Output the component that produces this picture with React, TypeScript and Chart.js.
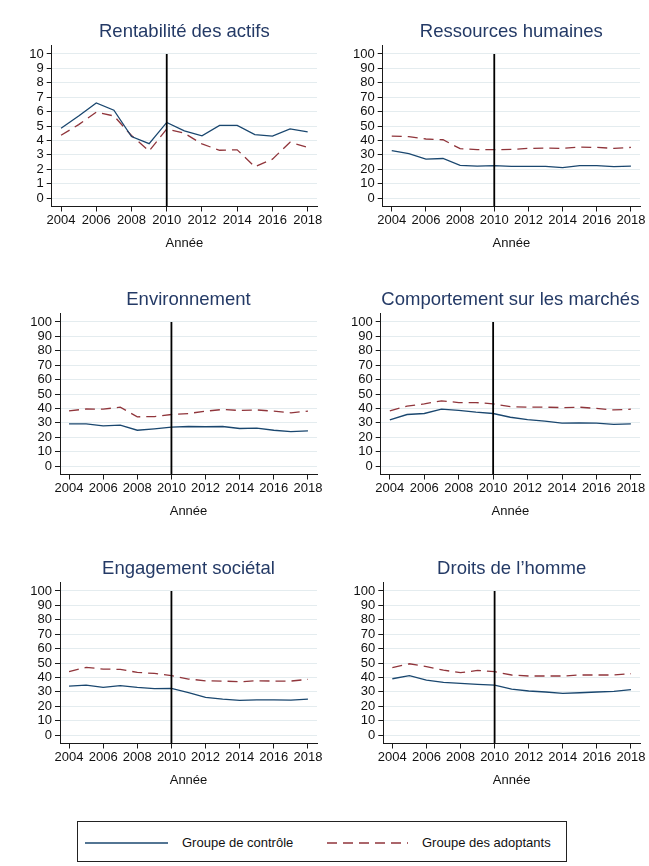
import React, { useEffect, useRef } from "react";
import { Chart, registerables } from "chart.js";

Chart.register(...registerables);

// ---------- data ----------
const years = [2004, 2005, 2006, 2007, 2008, 2009, 2010, 2011, 2012, 2013, 2014, 2015, 2016, 2017, 2018];
const xTickLabels = [2004, 2006, 2008, 2010, 2012, 2014, 2016, 2018];
const yTicksRoa = [0, 1, 2, 3, 4, 5, 6, 7, 8, 9, 10];
const yTicksScore = [0, 10, 20, 30, 40, 50, 60, 70, 80, 90, 100];
const adoptionYear = 2010;

const roaControl = [4.85, 5.7, 6.6, 6.1, 4.27, 3.78, 5.25, 4.67, 4.32, 5.05, 5.05, 4.4, 4.3, 4.8, 4.6];
const roaAdopt = [4.36, 5.1, 5.96, 5.7, 4.34, 3.27, 4.8, 4.5, 3.76, 3.32, 3.35, 2.17, 2.7, 3.88, 3.52];

const rhControl = [32.9, 30.8, 27.1, 27.5, 22.7, 22.2, 22.5, 22.0, 22.0, 22.0, 21.1, 22.5, 22.5, 21.8, 22.2];
const rhAdopt = [43.0, 42.6, 41.0, 40.5, 34.3, 33.6, 33.6, 33.8, 34.5, 34.7, 34.5, 35.4, 35.2, 34.5, 35.2];

const envControl = [29.3, 29.3, 27.9, 28.4, 24.9, 25.9, 27.0, 27.5, 27.3, 27.5, 26.1, 26.3, 24.9, 24.0, 24.5];
const envAdopt = [38.3, 39.7, 39.5, 40.9, 34.2, 34.4, 35.8, 36.5, 38.1, 39.3, 38.6, 39.0, 38.1, 37.0, 38.1];

const mktControl = [32.1, 35.8, 36.5, 39.5, 38.6, 37.4, 36.5, 33.9, 32.3, 31.2, 29.8, 30.0, 29.8, 28.9, 29.3];
const mktAdopt = [38.3, 41.6, 43.2, 45.3, 44.1, 44.1, 43.2, 41.3, 40.9, 40.9, 40.6, 40.9, 40.0, 39.0, 39.5];

const socControl = [34.0, 34.7, 33.1, 34.3, 33.1, 32.2, 32.4, 29.4, 26.2, 25.0, 24.1, 24.5, 24.5, 24.3, 25.0];
const socAdopt = [44.0, 47.0, 45.8, 45.6, 43.5, 42.8, 41.2, 38.9, 37.7, 37.5, 37.0, 37.7, 37.5, 37.5, 38.7];

const dhControl = [39.1, 41.2, 38.2, 36.6, 35.9, 35.2, 34.7, 31.9, 30.6, 29.9, 28.9, 29.4, 29.9, 30.3, 31.5];
const dhAdopt = [46.8, 49.5, 47.5, 45.1, 43.3, 44.9, 44.0, 41.7, 41.0, 41.0, 41.0, 41.7, 41.7, 41.7, 42.6];

const seriesLabels = ["Groupe de contrôle", "Groupe des adoptants"];
const xAxisTitle = "Année";

// ---------- styles ----------
const FONT = "'Liberation Sans', Arial, Helvetica, sans-serif";
const NAVY = "#1a476f";
const MAROON = "#90353b";
const TITLE_COLOR = "#243a66";
const GRID = "#e4ecef";
const AXIS = "#1a1a1a";
const TEXT = "#111111";
const DASH = [10, 6];

type Panel = {
  title: string;
  control: number[];
  adopt: number[];
  yTicks: number[];
  yMin: number;
  yMax: number;
  left: number;
  top: number;
  width: number;
  yAxisWidth: number;
  rightPad: number;
};

const panels: Panel[] = [
  { title: "Rentabilité des actifs", control: roaControl, adopt: roaAdopt, yTicks: yTicksRoa, yMin: -0.58, yMax: 10.62, left: 0, top: 0, width: 325, yAxisWidth: 51.7, rightPad: 8 },
  { title: "Ressources humaines", control: rhControl, adopt: rhAdopt, yTicks: yTicksScore, yMin: -5.8, yMax: 106.2, left: 325, top: 0, width: 324, yAxisWidth: 57.7, rightPad: 9 },
  { title: "Environnement", control: envControl, adopt: envAdopt, yTicks: yTicksScore, yMin: -5.8, yMax: 106.2, left: 0, top: 268, width: 325, yAxisWidth: 60, rightPad: 8 },
  { title: "Comportement sur les marchés", control: mktControl, adopt: mktAdopt, yTicks: yTicksScore, yMin: -5.8, yMax: 106.2, left: 325, top: 268, width: 324, yAxisWidth: 55.7, rightPad: 9 },
  { title: "Engagement sociétal", control: socControl, adopt: socAdopt, yTicks: yTicksScore, yMin: -5.8, yMax: 106.2, left: 0, top: 537, width: 325, yAxisWidth: 60, rightPad: 8 },
  { title: "Droits de l\u2019homme", control: dhControl, adopt: dhAdopt, yTicks: yTicksScore, yMin: -5.8, yMax: 106.2, left: 325, top: 537, width: 324, yAxisWidth: 58.3, rightPad: 9 },
];

const PANEL_H = 256;
const X_MIN = 2003.47;
const X_MAX = 2018.53;

function PanelChart({ p }: { p: Panel }) {
  const ref = useRef<HTMLCanvasElement | null>(null);
  useEffect(() => {
    if (!ref.current) return;
    const topTick = p.yTicks[p.yTicks.length - 1];
    const chart = new Chart(ref.current, {
      type: "line",
      data: {
        datasets: [
          {
            label: "adoption",
            data: [
              { x: adoptionYear, y: p.yMin },
              { x: adoptionYear, y: topTick },
            ],
            borderColor: "#000000",
            borderWidth: 1.8,
            pointRadius: 0,
            fill: false,
          },
          {
            label: seriesLabels[0],
            data: years.map((y, i) => ({ x: y, y: p.control[i] })),
            borderColor: NAVY,
            borderWidth: 1.3,
            pointRadius: 0,
            fill: false,
            tension: 0,
          },
          {
            label: seriesLabels[1],
            data: years.map((y, i) => ({ x: y, y: p.adopt[i] })),
            borderColor: MAROON,
            borderWidth: 1.3,
            borderDash: DASH,
            pointRadius: 0,
            fill: false,
            tension: 0,
          },
        ],
      },
      options: {
        animation: false,
        responsive: false,
        maintainAspectRatio: false,
        devicePixelRatio: 1,
        layout: { padding: { left: 0, right: p.rightPad, top: 0, bottom: 0 } },
        plugins: {
          legend: { display: false },
          tooltip: { enabled: false },
          title: {
            display: true,
            fullSize: false,
            text: p.title,
            color: TITLE_COLOR,
            font: { family: FONT, size: 18.5, weight: "normal", lineHeight: 1.2 },
            padding: { top: 20.4, bottom: 2.4 },
          },
        },
        scales: {
          x: {
            type: "linear",
            min: X_MIN,
            max: X_MAX,
            afterBuildTicks: (ax: any) => {
              ax.ticks = xTickLabels.map((v) => ({ value: v }));
            },
            afterFit: (s: any) => {
              s.height = PANEL_H - 206.5;
              s.paddingLeft = 0;
              s.paddingRight = 0;
            },
            ticks: {
              color: TEXT,
              font: { family: FONT, size: 13 },
              padding: 1,
              maxRotation: 0,
              autoSkip: false,
              callback: (v: any) => String(v),
            },
            grid: { drawOnChartArea: false, tickLength: 5, tickColor: AXIS, color: AXIS },
            border: { color: AXIS, width: 1 },
            title: {
              display: true,
              text: xAxisTitle,
              color: TEXT,
              font: { family: FONT, size: 13, lineHeight: 1.2 },
              padding: { top: 0, bottom: 4.8 },
            },
          },
          y: {
            type: "linear",
            min: p.yMin,
            max: p.yMax,
            afterBuildTicks: (ax: any) => {
              ax.ticks = p.yTicks.map((v) => ({ value: v }));
            },
            afterFit: (s: any) => {
              s.width = p.yAxisWidth;
              s.paddingTop = 0;
              s.paddingBottom = 0;
            },
            ticks: {
              color: TEXT,
              font: { family: FONT, size: 13 },
              padding: 3,
              autoSkip: false,
              callback: (v: any) => String(v),
            },
            grid: { color: GRID, lineWidth: 1, tickLength: 5, tickColor: AXIS },
            border: { color: AXIS, width: 1 },
          },
        },
      },
    } as any);
    return () => chart.destroy();
  }, [p]);
  return (
    <canvas
      ref={ref}
      width={p.width}
      height={PANEL_H}
      style={{ position: "absolute", left: p.left, top: p.top, width: p.width, height: PANEL_H }}
    />
  );
}

function Legend() {
  return (
    <div
      style={{
        position: "absolute",
        left: 77,
        top: 821,
        width: 490,
        height: 41,
        border: "1px solid #222",
        boxSizing: "border-box",
        fontFamily: FONT,
        fontSize: 13,
        color: TEXT,
      }}
    >
      <svg width={490} height={41} style={{ position: "absolute", left: -1, top: -1 }}>
        <line x1={8} y1={22} x2={91} y2={22} stroke={NAVY} strokeWidth={1.5} />
        <line x1={250} y1={22} x2={331} y2={22} stroke={MAROON} strokeWidth={1.5} strokeDasharray={DASH.join(" ")} />
      </svg>
      <span style={{ position: "absolute", left: 104, top: 13, lineHeight: "16px", whiteSpace: "nowrap" }}>{seriesLabels[0]}</span>
      <span style={{ position: "absolute", left: 344, top: 13, lineHeight: "16px", whiteSpace: "nowrap" }}>{seriesLabels[1]}</span>
    </div>
  );
}

export default function App() {
  return (
    <div style={{ position: "absolute", left: 0, top: 0, width: 649, height: 866, background: "#ffffff", overflow: "hidden" }}>
      {panels.map((p, i) => (
        <PanelChart key={i} p={p} />
      ))}
      <Legend />
    </div>
  );
}
